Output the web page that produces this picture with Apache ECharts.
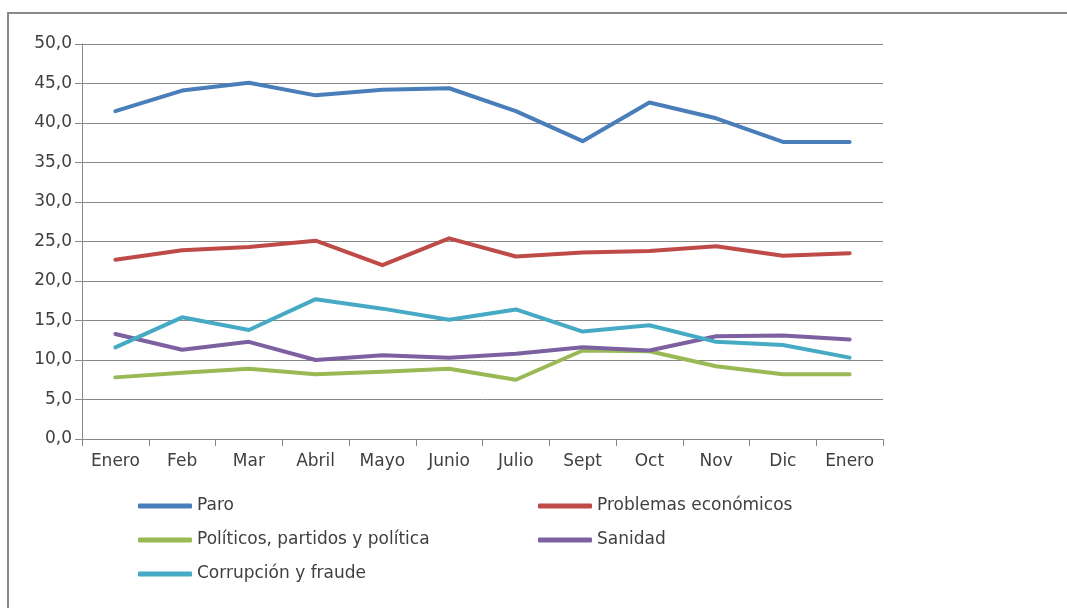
<!DOCTYPE html>
<html lang="es">
<head>
<meta charset="UTF-8">
<title>Problemas principales</title>
<style>
  html, body { margin: 0; padding: 0; background: #fff; }
  #chart { width: 1067px; height: 608px; }
</style>
</head>
<body>
<div id="chart"></div>
<script src="https://cdn.jsdelivr.net/npm/echarts@6/dist/echarts.min.js"></script>
<script>
// months on the x axis
var meses = ['Enero', 'Feb', 'Mar', 'Abril', 'Mayo', 'Junio', 'Julio', 'Sept', 'Oct', 'Nov', 'Dic', 'Enero'];

// series values
var paro        = [41.5, 44.1, 45.1, 43.5, 44.2, 44.4, 41.5, 37.7, 42.6, 40.6, 37.6, 37.6];
var economicos  = [22.7, 23.9, 24.3, 25.1, 22.0, 25.4, 23.1, 23.6, 23.8, 24.4, 23.2, 23.5];
var politicos   = [7.8, 8.4, 8.9, 8.2, 8.5, 8.9, 7.5, 11.2, 11.1, 9.2, 8.2, 8.2];
var sanidad     = [13.3, 11.3, 12.3, 10.0, 10.6, 10.3, 10.8, 11.6, 11.2, 13.0, 13.1, 12.6];
var corrupcion  = [11.6, 15.4, 13.8, 17.7, 16.5, 15.1, 16.4, 13.6, 14.4, 12.3, 11.9, 10.3];

var nombres = ['Paro', 'Problemas económicos', 'Políticos, partidos y política', 'Sanidad', 'Corrupción y fraude'];
var colores = ['#4A7EBB', '#BE4B48', '#98B954', '#7D60A0', '#46AAC5'];
var valores = [paro, economicos, politicos, sanidad, corrupcion];

var txt = '#404040';
var gris = '#888888';
var fuente = 'DejaVu Sans';

var chart = echarts.init(document.getElementById('chart'));

var series = nombres.map(function (n, i) {
  return {
    name: n,
    type: 'line',
    data: valores[i],
    symbol: 'none',
    color: colores[i],
    lineStyle: { width: 4, color: colores[i], cap: 'round', join: 'round' },
    animation: false
  };
});

function leyenda(items, left) {
  return {
    data: items,
    orient: 'vertical',
    left: left,
    top: 491,
    icon: 'roundRect',
    itemWidth: 54,
    itemHeight: 5,
    itemGap: 14,
    textStyle: { fontFamily: fuente, fontSize: 17, color: txt, lineHeight: 20 }
  };
}

chart.setOption({
  color: colores,
  animation: false,
  graphic: [{
    type: 'rect',
    shape: { x: 8, y: 13, width: 1200, height: 800 },
    style: { fill: 'none', stroke: gris, lineWidth: 2 },
    silent: true
  }],
  grid: { left: 82, top: 44, right: 184, bottom: 169, containLabel: false },
  legend: [
    leyenda([nombres[0], nombres[2], nombres[4]], 133),
    leyenda([nombres[1], nombres[3]], 533)
  ],
  xAxis: {
    type: 'category',
    data: meses,
    boundaryGap: true,
    axisLine: { lineStyle: { color: gris, width: 1 } },
    axisTick: { show: true, length: 7, interval: 0, lineStyle: { color: gris } },
    axisLabel: { interval: 0, margin: 14, color: txt, fontFamily: fuente, fontSize: 17 }
  },
  yAxis: {
    type: 'value',
    min: 0,
    max: 50,
    interval: 5,
    axisLine: { show: true, lineStyle: { color: gris, width: 1 } },
    axisTick: { show: true, length: 7, lineStyle: { color: gris } },
    axisLabel: {
      margin: 10,
      color: txt,
      fontFamily: fuente,
      fontSize: 17,
      formatter: function (v) { return v.toFixed(1).replace('.', ','); }
    },
    splitLine: { show: true, lineStyle: { color: gris, width: 1 } }
  },
  series: series
});
</script>
</body>
</html>
